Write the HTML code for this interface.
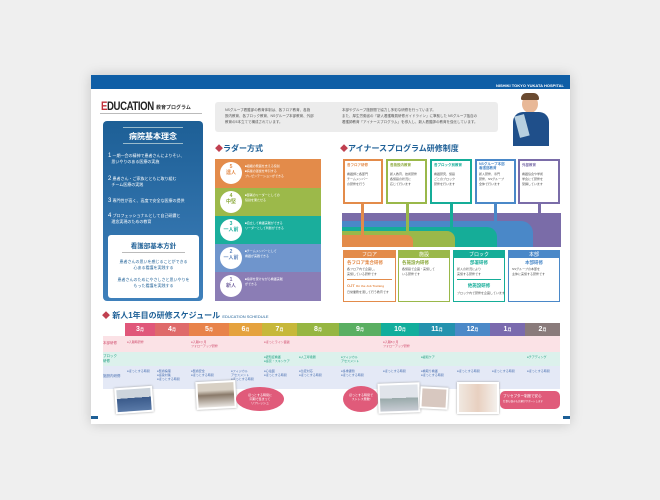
<!DOCTYPE html>
<html><head><meta charset="utf-8"><style>
*{margin:0;padding:0;box-sizing:border-box}
body{width:660px;height:500px;background:#efefef;position:relative;overflow:hidden;font-family:"Liberation Sans","Noto Sans CJK JP",sans-serif;color:#333}
.a{position:absolute}
.t{font-size:4px;line-height:6px;color:#555}
.w{color:#fff}
</style></head><body>
<div class="a" style="left:91px;top:75px;width:479px;height:349px;background:#fff;box-shadow:0 0 12px rgba(0,0,0,.18)"></div>
<div class="a" style="left:91px;top:75px;width:479px;height:14px;background:#0f5ea6"></div>
<div class="a w" style="left:496px;top:83px;font-size:4px;font-weight:bold">NISHIKI TOKYO YUKATA HOSPITAL</div>
<!-- title -->
<div class="a" style="left:101px;top:99px;font-size:12px;font-weight:bold;color:#222;letter-spacing:-.5px;transform:scaleX(.8);transform-origin:left"><span style="color:#c0303a">E</span>DUCATION</div>
<div class="a" style="left:156px;top:104px;font-size:5px;font-weight:bold">教育プログラム</div>
<div class="a" style="left:100px;top:113px;width:102px;height:1px;background:#bbb"></div>
<!-- left box -->
<div class="a" style="left:103px;top:121px;width:100px;height:180px;border-radius:4px;background:linear-gradient(#1d5f96,#3f80bb)"></div>
<div class="a" style="left:123px;top:127px;width:60px;height:1px;background:#9bc"></div>
<div class="a w" style="left:103px;top:131px;width:100px;text-align:center;font-size:8px;font-weight:bold">病院基本理念</div>
<div class="a" style="left:123px;top:143px;width:60px;height:1px;background:#9bc"></div>
<div class="a w" style="left:108px;top:153px;font-size:4px;line-height:6px"><span style="font-size:6px">1</span> 一期一会の精神で患者さんによりそい、<br>&nbsp;&nbsp;&nbsp;思いやりのある医療の実施</div>
<div class="a w" style="left:108px;top:176px;font-size:4px;line-height:6px"><span style="font-size:6px">2</span> 患者さん・ご家族とともに取り組む<br>&nbsp;&nbsp;&nbsp;チーム医療の実践</div>
<div class="a w" style="left:108px;top:198px;font-size:4px"><span style="font-size:6px">3</span> 専門性が高く、高度で安全な医療の提供</div>
<div class="a w" style="left:108px;top:213px;font-size:4px;line-height:6px"><span style="font-size:6px">4</span> プロフェッショナルとして自己研鑽と<br>&nbsp;&nbsp;&nbsp;理念実現のための教育</div>
<div class="a" style="left:108px;top:235px;width:91px;height:63px;background:#fff;border-radius:3px"></div>
<div class="a" style="left:108px;top:240px;width:91px;text-align:center;font-size:6.5px;font-weight:bold;color:#1d5f96">看護部基本方針</div>
<div class="a" style="left:122px;top:252px;width:63px;height:1px;background:#bbb"></div>
<div class="a" style="left:108px;top:259px;width:91px;text-align:center;font-size:4px;line-height:6px;color:#1d5f96">患者さんの思いを感じることができる<br>心ある看護を実践する<br><br>患者さんのためにやさしさと思いやりを<br>もった看護を実践する</div>
<!-- gray text box -->
<div class="a" style="left:215px;top:102px;width:283px;height:30px;background:#ececec;border-radius:3px"></div>
<div class="a t" style="left:225px;top:107px;font-size:3.5px">NSグループ看護部の教育体制は、各フロア教育、各施<br>設内教育、各ブロック教育、NSグループ本部教育、外部<br>教育の5本立てで構成されています。</div>
<div class="a t" style="left:342px;top:107px;font-size:3.5px">本部やグループ施設間で協力し多彩な研修を行っています。<br>また、厚生労働省の「新人看護職員研修ガイドライン」に準拠した NSグループ独自の<br>看護師教育「アイナースプログラム」を導入し、新人看護師の教育を強化しています。</div>
<!-- nurse -->
<div class="a" style="left:522px;top:95px;width:16px;height:18px;border-radius:50%;background:#e8b897"></div>
<div class="a" style="left:521px;top:93px;width:18px;height:7px;border-radius:8px 8px 2px 2px;background:#6a4a30"></div>
<div class="a" style="left:513px;top:112px;width:36px;height:34px;border-radius:10px 10px 0 0;background:#1f4f8a"></div>
<div class="a" style="left:517px;top:115px;width:10px;height:22px;background:#b8d0e0;transform:rotate(-15deg)"></div>
<!-- ladder -->
<div class="a" style="left:215px;top:143px;font-size:8px;font-weight:bold;color:#1d5f96"><span style="color:#c04050">◆</span>ラダー方式</div>
<div class="a" style="left:215px;top:159px;width:106px;height:29px;background:#e38b4a"></div>
<div class="a" style="left:215px;top:188px;width:106px;height:28px;background:#9cb94a"></div>
<div class="a" style="left:215px;top:216px;width:106px;height:28px;background:#1aae9c"></div>
<div class="a" style="left:215px;top:244px;width:106px;height:28px;background:#6f95cc"></div>
<div class="a" style="left:215px;top:272px;width:106px;height:29px;background:#8b7db5"></div>
<div class="a" style="left:220px;top:162px;width:22px;height:22px;border-radius:50%;background:#fff;text-align:center;font-size:5px;line-height:6px;color:#e38b4a;font-weight:bold;padding-top:2px">5<br>達人</div>
<div class="a" style="left:220px;top:191px;width:22px;height:22px;border-radius:50%;background:#fff;text-align:center;font-size:5px;line-height:6px;color:#8aa83a;font-weight:bold;padding-top:2px">4<br>中堅</div>
<div class="a" style="left:220px;top:219px;width:22px;height:22px;border-radius:50%;background:#fff;text-align:center;font-size:5px;line-height:6px;color:#1aae9c;font-weight:bold;padding-top:2px">3<br>一人前</div>
<div class="a" style="left:220px;top:247px;width:22px;height:22px;border-radius:50%;background:#fff;text-align:center;font-size:5px;line-height:6px;color:#5f85bc;font-weight:bold;padding-top:2px">2<br>一人前</div>
<div class="a" style="left:220px;top:275px;width:22px;height:22px;border-radius:50%;background:#fff;text-align:center;font-size:5px;line-height:6px;color:#7b6da5;font-weight:bold;padding-top:2px">1<br>新人</div>
<div class="a w" style="left:245px;top:164px;font-size:3px;line-height:5px">■組織の発展を支える役割<br>■病棟の運営を牽引する<br>プレゼンテーションができる</div>
<div class="a w" style="left:245px;top:193px;font-size:3px;line-height:5px">■部署のリーダーとしての<br>役割を果たせる</div>
<div class="a w" style="left:245px;top:221px;font-size:3px;line-height:5px">■自立して看護実践ができる<br>リーダーとして判断ができる</div>
<div class="a w" style="left:245px;top:249px;font-size:3px;line-height:5px">■チームメンバーとして<br>看護が実践できる</div>
<div class="a w" style="left:245px;top:277px;font-size:3px;line-height:5px">■指導を受けながら看護実践<br>ができる</div>
<!-- ainurse -->
<div class="a" style="left:340px;top:143px;font-size:8px;font-weight:bold;color:#1d5f96"><span style="color:#c04050">◆</span>アイナースプログラム研修制度</div>
<div class="a" style="left:342px;top:213px;width:219px;height:34px;background:#7a6ca8"></div>
<div class="a" style="left:342px;top:221px;width:191px;height:26px;background:#4a88c8;border-radius:0 12px 0 0"></div>
<div class="a" style="left:342px;top:227px;width:155px;height:20px;background:#15ad98;border-radius:0 10px 0 0"></div>
<div class="a" style="left:342px;top:231px;width:113px;height:16px;background:#9ab84a;border-radius:0 8px 0 0"></div>
<div class="a" style="left:342px;top:235px;width:71px;height:12px;background:#e38b4a;border-radius:0 6px 0 0"></div>
<!-- top boxes -->
<div class="a" style="left:343px;top:159px;width:40px;height:45px;border:2px solid #e38b4a;background:#fff"></div>
<div class="a" style="left:386px;top:159px;width:41px;height:45px;border:2px solid #9ab84a;background:#fff"></div>
<div class="a" style="left:430px;top:159px;width:42px;height:45px;border:2px solid #15ad98;background:#fff"></div>
<div class="a" style="left:475px;top:159px;width:41px;height:45px;border:2px solid #4a88c8;background:#fff"></div>
<div class="a" style="left:518px;top:159px;width:42px;height:45px;border:2px solid #7a6ca8;background:#fff"></div>
<div class="a" style="left:361px;top:204px;width:3px;height:32px;background:#e38b4a"></div>
<div class="a" style="left:406px;top:204px;width:3px;height:28px;background:#9ab84a"></div>
<div class="a" style="left:450px;top:204px;width:3px;height:24px;background:#15ad98"></div>
<div class="a" style="left:494px;top:204px;width:3px;height:18px;background:#4a88c8"></div>
<div class="a" style="left:538px;top:204px;width:3px;height:9px;background:#7a6ca8"></div>
<div class="a" style="left:347px;top:163px;font-size:3.5px;color:#e38b4a;font-weight:bold">各フロア研修</div>
<div class="a" style="left:390px;top:163px;font-size:3.5px;color:#8aa83a;font-weight:bold">各施設内教育</div>
<div class="a" style="left:434px;top:163px;font-size:3.5px;color:#15ad98;font-weight:bold">各ブロック別教育</div>
<div class="a" style="left:479px;top:162px;font-size:3.5px;color:#4a88c8;font-weight:bold;line-height:4px">NSグループ本部<br>看護部教育</div>
<div class="a" style="left:522px;top:163px;font-size:3.5px;color:#7a6ca8;font-weight:bold">外部教育</div>
<div class="a t" style="left:347px;top:172px;font-size:3px;line-height:5px">看護師と各部門<br>チームメンバー<br>の研修を行う</div>
<div class="a t" style="left:390px;top:172px;font-size:3px;line-height:5px">新人教育、技術研修<br>各施設の状況に<br>応じて行います</div>
<div class="a t" style="left:434px;top:172px;font-size:3px;line-height:5px">看護研究、施設<br>ごとのブロック<br>研修を行います</div>
<div class="a t" style="left:479px;top:172px;font-size:3px;line-height:5px">新人研修、専門<br>研修、NSグループ<br>全体で行います</div>
<div class="a t" style="left:522px;top:172px;font-size:3px;line-height:5px">看護協会や学術<br>学会にて研修を<br>受講しています</div>
<!-- bottom boxes -->
<div class="a" style="left:343px;top:250px;width:53px;height:52px;border:1.5px solid #e38b4a;background:#fff"></div>
<div class="a" style="left:343px;top:250px;width:53px;height:8px;background:#e38b4a"></div>
<div class="a" style="left:398px;top:250px;width:52px;height:52px;border:1.5px solid #9ab84a;background:#fff"></div>
<div class="a" style="left:398px;top:250px;width:52px;height:8px;background:#9ab84a"></div>
<div class="a" style="left:453px;top:250px;width:52px;height:52px;border:1.5px solid #15ad98;background:#fff"></div>
<div class="a" style="left:453px;top:250px;width:52px;height:8px;background:#15ad98"></div>
<div class="a" style="left:508px;top:250px;width:52px;height:52px;border:1.5px solid #4a88c8;background:#fff"></div>
<div class="a" style="left:508px;top:250px;width:52px;height:8px;background:#4a88c8"></div>
<div class="a w" style="left:343px;top:251px;width:53px;text-align:center;font-size:5px">フロア</div>
<div class="a w" style="left:398px;top:251px;width:52px;text-align:center;font-size:5px">施設</div>
<div class="a w" style="left:453px;top:251px;width:52px;text-align:center;font-size:5px">ブロック</div>
<div class="a w" style="left:508px;top:251px;width:52px;text-align:center;font-size:5px">本部</div>
<div class="a" style="left:347px;top:260px;font-size:4.5px;color:#e38b4a;font-weight:bold">各フロア集合研修</div>
<div class="a" style="left:402px;top:260px;font-size:4.5px;color:#8aa83a;font-weight:bold">各施設内研修</div>
<div class="a" style="left:457px;top:260px;width:44px;text-align:center;font-size:4.5px;color:#15ad98;font-weight:bold">部署研修</div>
<div class="a" style="left:512px;top:260px;width:44px;text-align:center;font-size:4.5px;color:#4a88c8;font-weight:bold">本部研修</div>
<div class="a t" style="left:347px;top:267px;font-size:3px;line-height:4.5px">各フロア内で企画し、<br>実施している研修です</div>
<div class="a t" style="left:402px;top:267px;font-size:3px;line-height:4.5px">各施設で企画・実施して<br>いる研修です</div>
<div class="a t" style="left:457px;top:267px;font-size:3px;line-height:4.5px">新人の状況により<br>実施する研修です</div>
<div class="a t" style="left:512px;top:267px;font-size:3px;line-height:4.5px">NSグループの本部を<br>主体に実施する研修です</div>
<div class="a" style="left:347px;top:279px;width:45px;height:1px;background:#e38b4a"></div>
<div class="a" style="left:347px;top:283px;font-size:4px;color:#e38b4a;font-weight:bold">OJT <span style="font-size:3px">On the Job Training</span></div>
<div class="a t" style="left:347px;top:289px;font-size:3px">日常業務を通して行う教育です</div>
<div class="a" style="left:457px;top:279px;width:44px;height:1px;background:#15ad98"></div>
<div class="a" style="left:457px;top:283px;width:44px;text-align:center;font-size:4.5px;color:#15ad98;font-weight:bold">他施設研修</div>
<div class="a t" style="left:457px;top:290px;font-size:3px">ブロック内で研修を企画しています</div>
<!-- schedule -->
<div class="a" style="left:102px;top:310px;font-size:8px;font-weight:bold;color:#1d5f96"><span style="color:#c04050">◆</span> 新人1年目の研修スケジュール <span style="font-size:4px;font-weight:normal">EDUCATION SCHEDULE</span></div>
<div class="a" style="left:103px;top:336px;width:457px;height:16px;background:#fbe2e6"></div>
<div class="a" style="left:103px;top:352px;width:457px;height:14px;background:#dcf1ec"></div>
<div class="a" style="left:103px;top:366px;width:457px;height:23px;background:#e4e9f6"></div>
<div class="a" style="left:125px;top:323px;width:435px;height:13px;display:flex;color:#fff;font-size:7px;font-weight:bold;line-height:13px;text-align:center">
<div style="width:30px;background:#e0577a">3<small style="font-size:4px">月</small></div>
<div style="width:34px;background:#df6a6a">4<small style="font-size:4px">月</small></div>
<div style="width:40px;background:#e8834a">5<small style="font-size:4px">月</small></div>
<div style="width:33px;background:#e5a23e">6<small style="font-size:4px">月</small></div>
<div style="width:35px;background:#c7b83a">7<small style="font-size:4px">月</small></div>
<div style="width:42px;background:#96b642">8<small style="font-size:4px">月</small></div>
<div style="width:42px;background:#5aaf62">9<small style="font-size:4px">月</small></div>
<div style="width:38px;background:#12ae9c">10<small style="font-size:4px">月</small></div>
<div style="width:36px;background:#2492ae">11<small style="font-size:4px">月</small></div>
<div style="width:35px;background:#4c89c8">12<small style="font-size:4px">月</small></div>
<div style="width:35px;background:#7a6aae">1<small style="font-size:4px">月</small></div>
<div style="width:35px;background:#8a7b7b">2<small style="font-size:4px">月</small></div>
</div>
<div class="a" style="left:103px;top:341px;font-size:3.5px;color:#d05070">本部研修</div>
<div class="a" style="left:103px;top:354px;font-size:3.5px;color:#20a080;line-height:5px">ブロック<br>研修</div>
<div class="a" style="left:103px;top:374px;font-size:3.5px;color:#4a70b0">施設内研修</div>
<div class="a" style="left:127px;top:340px;font-size:3px;color:#d05070">●入職時研修</div>
<div class="a" style="left:191px;top:340px;font-size:3px;color:#d05070;line-height:4px">●入職3ヶ月<br>フォローアップ研修</div>
<div class="a" style="left:264px;top:340px;font-size:3px;color:#d05070">●ほっとライン面談</div>
<div class="a" style="left:383px;top:340px;font-size:3px;color:#d05070;line-height:4px">●入職8ヶ月<br>フォローアップ研修</div>
<div class="a" style="left:264px;top:355px;font-size:3px;color:#20a080;line-height:4px">●認知症看護<br>●感覚・スキンケア</div>
<div class="a" style="left:299px;top:355px;font-size:3px;color:#20a080">●人工呼吸器</div>
<div class="a" style="left:341px;top:355px;font-size:3px;color:#20a080;line-height:4px">●フィジカル<br>アセスメント</div>
<div class="a" style="left:421px;top:355px;font-size:3px;color:#20a080">●緩和ケア</div>
<div class="a" style="left:527px;top:355px;font-size:3px;color:#20a080">●チアディング</div>
<div class="a" style="left:127px;top:369px;font-size:3px;color:#4a70b0">●ほっとする時間</div>
<div class="a" style="left:157px;top:369px;font-size:3px;color:#4a70b0;line-height:4px">●医療倫理<br>●感染対策<br>●ほっとする時間</div>
<div class="a" style="left:191px;top:369px;font-size:3px;color:#4a70b0;line-height:4px">●医療安全<br>●ほっとする時間</div>
<div class="a" style="left:231px;top:369px;font-size:3px;color:#4a70b0;line-height:4px">●フィジカル<br>アセスメント<br>●ほっとする時間</div>
<div class="a" style="left:264px;top:369px;font-size:3px;color:#4a70b0;line-height:4px">●心電図<br>●ほっとする時間</div>
<div class="a" style="left:299px;top:369px;font-size:3px;color:#4a70b0;line-height:4px">●急変対応<br>●ほっとする時間</div>
<div class="a" style="left:341px;top:369px;font-size:3px;color:#4a70b0;line-height:4px">●多重課題<br>●ほっとする時間</div>
<div class="a" style="left:383px;top:369px;font-size:3px;color:#4a70b0">●ほっとする時間</div>
<div class="a" style="left:421px;top:369px;font-size:3px;color:#4a70b0;line-height:4px">●看取り看護<br>●ほっとする時間</div>
<div class="a" style="left:457px;top:369px;font-size:3px;color:#4a70b0">●ほっとする時間</div>
<div class="a" style="left:492px;top:369px;font-size:3px;color:#4a70b0">●ほっとする時間</div>
<div class="a" style="left:527px;top:369px;font-size:3px;color:#4a70b0">●ほっとする時間</div>
<!-- photos -->
<div class="a" style="left:115px;top:387px;width:38px;height:26px;background:#fff;box-shadow:0 0 2px #999;transform:rotate(-4deg);padding:2px"><div style="width:100%;height:100%;background:linear-gradient(#ccd4dc 40%,#3a5a8a 40%,#5a7aa8)"></div></div>
<div class="a" style="left:196px;top:381px;width:40px;height:28px;background:#fff;box-shadow:0 0 2px #999;transform:rotate(-3deg);padding:2px"><div style="width:100%;height:100%;background:linear-gradient(#d8d0c4 30%,#8a7a6a 50%,#e8e4e0)"></div></div>
<div class="a" style="left:236px;top:387px;width:48px;height:24px;border-radius:50%;background:#e05b7a"></div>
<div class="a w" style="left:238px;top:393px;width:44px;text-align:center;font-size:3px;line-height:4px">ほっとする時間に<br>同期で集まって<br>リフレッシュ</div>
<div class="a" style="left:343px;top:386px;width:36px;height:26px;border-radius:50%;background:#e05b7a"></div>
<div class="a w" style="left:343px;top:393px;width:36px;text-align:center;font-size:3px;line-height:4px">ほっとする時間で<br>ストレス発散!</div>
<div class="a" style="left:378px;top:383px;width:42px;height:30px;background:#fff;box-shadow:0 0 2px #999;transform:rotate(-2deg);padding:2px"><div style="width:100%;height:100%;background:linear-gradient(#e0e4ea 50%,#9aa 50%,#c8ccd4)"></div></div>
<div class="a" style="left:420px;top:387px;width:28px;height:22px;background:#fff;box-shadow:0 0 2px #999;transform:rotate(3deg);padding:2px"><div style="width:100%;height:100%;background:#d8c8c0"></div></div>
<div class="a" style="left:457px;top:382px;width:42px;height:32px;background:#fff;box-shadow:0 0 2px #999;padding:2px"><div style="width:100%;height:100%;background:linear-gradient(90deg,#f0e8e0,#e8d0c0 50%,#f4f0ec)"></div></div>
<div class="a" style="left:500px;top:391px;width:60px;height:18px;border-radius:5px;background:#e05b7a"></div>
<div class="a w" style="left:503px;top:394px;font-size:3.5px;line-height:4.5px">プリセプター制度で安心<br><span style="font-size:2.5px">仕事も悩みも先輩がサポートします</span></div>
<div class="a" style="left:91px;top:416px;width:7px;height:3px;background:#1d5f96"></div>
<div class="a" style="left:563px;top:416px;width:7px;height:3px;background:#1d5f96"></div>
</body></html>
